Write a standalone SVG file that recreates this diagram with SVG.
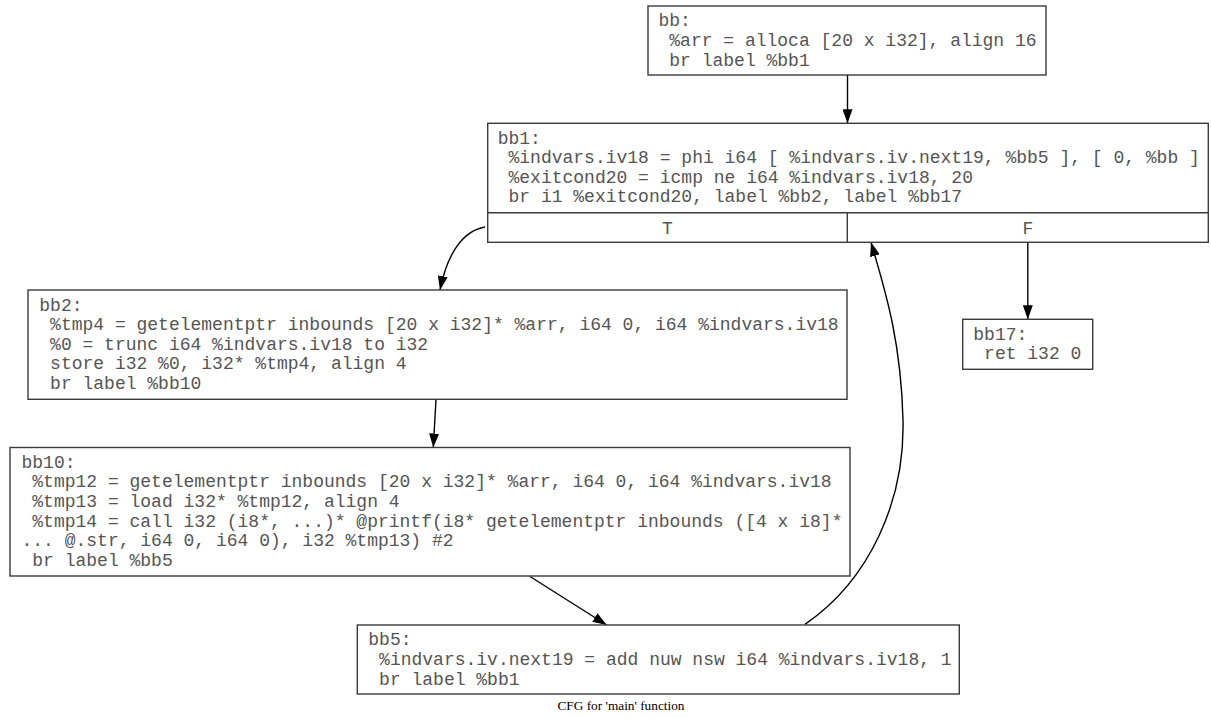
<svg xmlns="http://www.w3.org/2000/svg" width="1211" height="718" viewBox="0 0 1211 718">
<style>
.box{fill:#fff;stroke:#3a3a3a;stroke-width:1.4}
.sep{stroke:#3a3a3a;stroke-width:1.4;fill:none}
.t{font-family:"Liberation Mono","DejaVu Sans Mono",monospace;font-size:18px;fill:#555}
.edge{fill:none;stroke:#000;stroke-width:1.4;marker-end:url(#arr)}
.cap{font-family:"Liberation Serif","Times New Roman",serif;font-size:13.3px;fill:#000}
</style>
<defs>
<marker id="arr" markerUnits="userSpaceOnUse" markerWidth="14" markerHeight="10" viewBox="0 0 14 10" refX="14" refY="5" orient="auto">
<path d="M0,0 L14,5 L0,10 z" fill="#000"/>
</marker>
</defs>
<rect width="1211" height="718" fill="#fff"/>
<g id="edges">
<path class="edge" d="M847.5,75 L847.5,123.3"/>
<path class="edge" d="M485,227 C462,231 447,255 440,290"/>
<path class="edge" d="M1027.8,242.3 L1027.8,319.3"/>
<path class="edge" d="M436,399.3 L433.3,447.5"/>
<path class="edge" d="M530,576.5 L606.7,625"/>
<path class="edge" d="M805,624.3 C870,580 905,500 903,420 C901,340 885,290 871,242.3"/>
</g>
<g id="bb">
<rect class="box" x="648" y="6" width="398" height="69"/>
<text class="t"><tspan x="658.5" y="26.3">bb:</tspan><tspan x="669.3" y="45.9">%arr = alloca [20 x i32], align 16</tspan><tspan x="669.3" y="65.5">br label %bb1</tspan></text>
</g>
<g id="bb1">
<rect class="box" x="487.7" y="123.3" width="720.6" height="119"/>
<path class="sep" d="M487.7,212.7 H1208.3 M847.3,212.7 V242.3"/>
<text class="t"><tspan x="497.7" y="143.6">bb1:</tspan><tspan x="508.5" y="163.2">%indvars.iv18 = phi i64 [ %indvars.iv.next19, %bb5 ], [ 0, %bb ]</tspan><tspan x="508.5" y="182.8">%exitcond20 = icmp ne i64 %indvars.iv18, 20</tspan><tspan x="508.5" y="202.4">br i1 %exitcond20, label %bb2, label %bb17</tspan></text>
<text class="t" x="667.5" y="233.5" text-anchor="middle">T</text>
<text class="t" x="1027.8" y="233.5" text-anchor="middle">F</text>
</g>
<g id="bb2">
<rect class="box" x="28" y="290" width="819" height="109.3"/>
<text class="t"><tspan x="39.3" y="310.5">bb2:</tspan><tspan x="50.1" y="330.1">%tmp4 = getelementptr inbounds [20 x i32]* %arr, i64 0, i64 %indvars.iv18</tspan><tspan x="50.1" y="349.7">%0 = trunc i64 %indvars.iv18 to i32</tspan><tspan x="50.1" y="369.3">store i32 %0, i32* %tmp4, align 4</tspan><tspan x="50.1" y="388.9">br label %bb10</tspan></text>
</g>
<g id="bb10">
<rect class="box" x="10" y="447.5" width="840" height="128.5"/>
<text class="t"><tspan x="21.5" y="467.8">bb10:</tspan><tspan x="32.3" y="487.4">%tmp12 = getelementptr inbounds [20 x i32]* %arr, i64 0, i64 %indvars.iv18</tspan><tspan x="32.3" y="507">%tmp13 = load i32* %tmp12, align 4</tspan><tspan x="32.3" y="526.6">%tmp14 = call i32 (i8*, ...)* @printf(i8* getelementptr inbounds ([4 x i8]*</tspan><tspan x="21.5" y="546.2">... @.str, i64 0, i64 0), i32 %tmp13) #2</tspan><tspan x="32.3" y="565.8">br label %bb5</tspan></text>
</g>
<g id="bb5">
<rect class="box" x="357.3" y="625" width="602" height="69"/>
<text class="t"><tspan x="368.3" y="645.3">bb5:</tspan><tspan x="379.1" y="664.9">%indvars.iv.next19 = add nuw nsw i64 %indvars.iv18, 1</tspan><tspan x="379.1" y="684.5">br label %bb1</tspan></text>
</g>
<g id="bb17">
<rect class="box" x="962.7" y="319.3" width="130" height="50"/>
<text class="t"><tspan x="973.3" y="339.6">bb17:</tspan><tspan x="984.1" y="359.2">ret i32 0</tspan></text>
</g>
<text class="cap" x="621" y="710" text-anchor="middle">CFG for 'main' function</text>
</svg>
